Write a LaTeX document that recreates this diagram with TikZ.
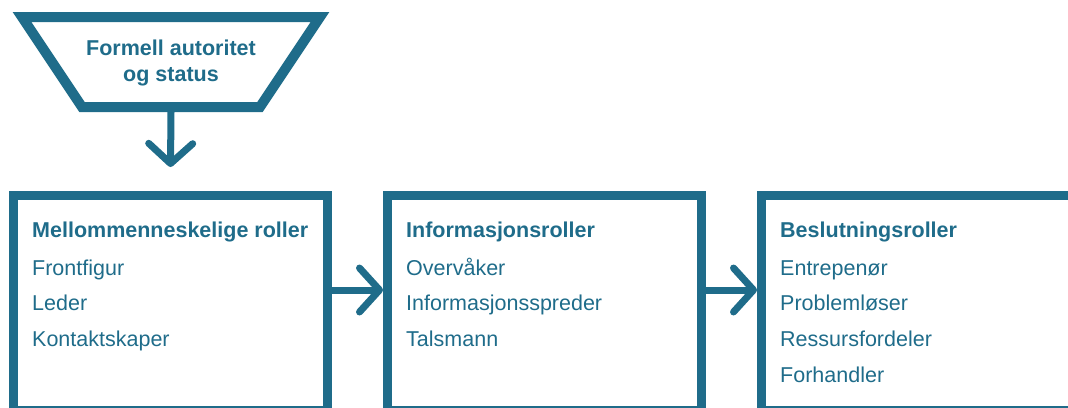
\documentclass[tikz,border=0pt]{standalone}
\usepackage{fontspec}
\setmainfont{Liberation Sans}
\usetikzlibrary{arrows.meta}
\definecolor{rolleblaa}{RGB}{31,108,138}
\def\boksx{374}
\def\boks{(170.5,302.75)}
\def\tekstx{32}
\def\linjeavst{35.7}
\def\fs{\fontsize{21.5}{26}\selectfont}

\tikzset{
  rolleboks/.style={draw=rolleblaa, line width=9pt, minimum width=314pt,
    minimum height=214.5pt, inner sep=0pt},
  tittel/.style={anchor=base west, inner sep=0pt, text=rolleblaa, font=\fs\bfseries},
  punkt/.style={anchor=base west, inner sep=0pt, text=rolleblaa, font=\fs},
  pil/.style={draw=rolleblaa, line width=7pt,
    -{Straight Barb[length=20pt, width=44pt, round]}},
}

\begin{document}
\begin{tikzpicture}[x=1pt, y=-1pt]
\useasboundingbox (0,0) rectangle (1068,407);
\clip (0,0) rectangle (1068,407);
% trapes med formell autoritet
\draw [rolleblaa, line width=10pt] (22,17) -- (320,17) -- (260,107) -- (82,107) -- cycle;
\node [tittel, anchor=base] (formell-1) at (171,55) {Formell autoritet};
\node [tittel, anchor=base] (formell-2) at (171,81) {og status};
\coordinate (trapes-bunn) at (171,112);
% boksene
\begin{scope}
  \node [rolleboks] (mell) at \boks {};
  \node [tittel] (mell-t) at (\tekstx,237) {Mellommenneskelige roller};
  \foreach \navn [count=\i] in {Frontfigur, Leder, Kontaktskaper}
    \node [punkt] (mell-\i) at (\tekstx,239.3+\linjeavst*\i) {\navn};
\end{scope}
\begin{scope} [shift={(\boksx,0)}]
  \node [rolleboks] (info) at \boks {};
  \node [tittel] (info-t) at (\tekstx,237) {Informasjonsroller};
  \foreach \navn [count=\i] in {Overvåker, Informasjonsspreder, Talsmann}
    \node [punkt] (info-\i) at (\tekstx,239.3+\linjeavst*\i) {\navn};
\end{scope}
\begin{scope} [shift={(2*\boksx,0)}]
  \node [rolleboks] (beslut) at \boks {};
  \node [tittel] (beslut-t) at (\tekstx,237) {Beslutningsroller};
  \foreach \navn [count=\i] in {Entrepenør, Problemløser, Ressursfordeler, Forhandler}
    \node [punkt] (beslut-\i) at (\tekstx,239.3+\linjeavst*\i) {\navn};
\end{scope}
% piler
\draw [pil] (trapes-bunn) -- ([yshift=24pt]mell.north);
\draw [pil] ([yshift=12.75pt]mell.east) -- ([yshift=12.75pt]info.west);
\draw [pil] ([yshift=12.75pt]info.east) -- ([yshift=12.75pt]beslut.west);
\end{tikzpicture}
\end{document}
